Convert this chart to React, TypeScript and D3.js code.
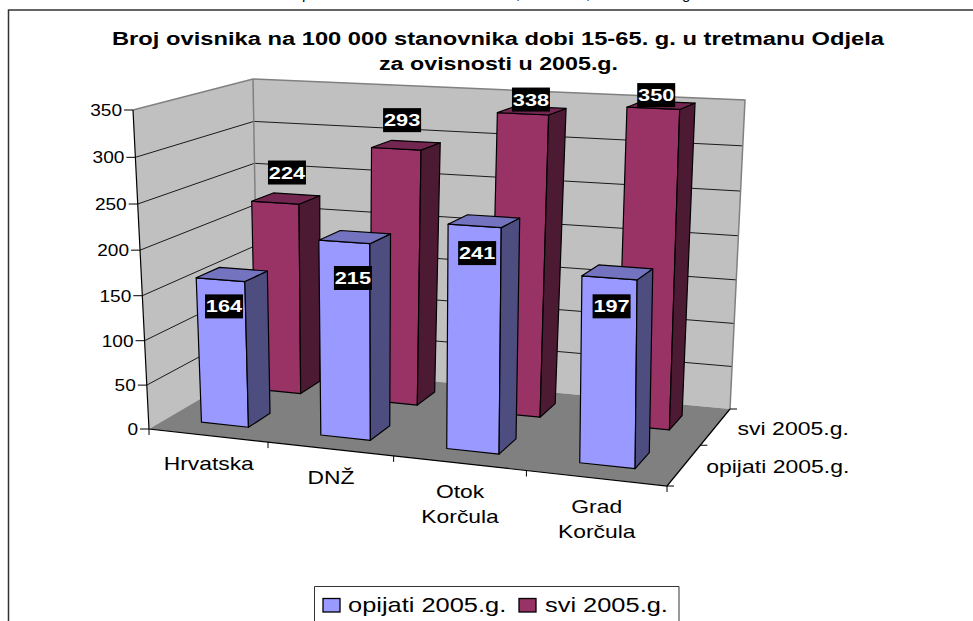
import React from "react";
import * as d3 from "d3";

const categories = ["Hrvatska", "DNŽ", "Otok\nKorčula", "Grad\nKorčula"];
const seriesNames = ["opijati 2005.g.", "svi 2005.g."];
const opijati = [164, 215, 241, 197];
const svi = [224, 293, 338, 350];
const valueTicks = [0, 50, 100, 150, 200, 250, 300, 350];
const titleLines = [
  "Broj ovisnika na 100 000 stanovnika dobi 15-65. g. u tretmanu Odjela",
  "za ovisnosti u 2005.g.",
];

type P = [number, number];
// plot box corners: floor then ceiling, order front-left, front-right, back-right, back-left
const floorQuad: P[] = [[149, 429], [667, 486], [730, 409], [258, 365]];
const ceilQuad: P[] = [[133, 110], [668, 134], [745, 100], [253, 79]];
const HEIGHT_W = 0.957;
const CEIL_U_WARP = 0.025;

function squareToQuad(q: P[]) {
  const [[x0, y0], [x1, y1], [x2, y2], [x3, y3]] = q;
  const dx1 = x1 - x2, dx2 = x3 - x2, dx3 = x0 - x1 + x2 - x3;
  const dy1 = y1 - y2, dy2 = y3 - y2, dy3 = y0 - y1 + y2 - y3;
  const den = dx1 * dy2 - dx2 * dy1;
  const g = (dx3 * dy2 - dx2 * dy3) / den;
  const h = (dx1 * dy3 - dx3 * dy1) / den;
  const a = x1 - x0 + g * x1, b = x3 - x0 + h * x3, c = x0;
  const d = y1 - y0 + g * y1, e = y3 - y0 + h * y3, f = y0;
  return (u: number, v: number): P => {
    const w = g * u + h * v + 1;
    return [(a * u + b * v + c) / w, (d * u + e * v + f) / w];
  };
}
const floorH = squareToQuad(floorQuad);
const ceilH = squareToQuad(ceilQuad);

function project(u: number, v: number, t: number): P {
  const tt = (t * HEIGHT_W) / (1 - t + t * HEIGHT_W);
  const a = floorH(u, v), b = ceilH(u + CEIL_U_WARP * u * (u - 1), v);
  return [a[0] + (b[0] - a[0]) * tt, a[1] + (b[1] - a[1]) * tt];
}

const yScale = d3.scaleLinear().domain([0, 350]).range([0, 1]);
const xBand = d3.scaleBand<string>().domain(categories).range([0, 1]).paddingInner(0.6).paddingOuter(0.3);
const xOuter = d3.scaleBand<string>().domain(categories).range([0, 1]);
const zBand = d3.scaleBand<string>().domain(seriesNames).range([0, 1]).paddingInner(0.6).paddingOuter(0.3);
const zOuter = d3.scaleBand<string>().domain(seriesNames).range([0, 1]);

const poly = (pts: P[]) => d3.line()(pts)! + "Z";

const palette = [
  { front: "#9999FF", side: "#4D4D80", top: "#7373BF" },
  { front: "#993366", side: "#4D1A33", top: "#732650" },
];
const labelShift: P[][] = [
  [[-8, -2], [-2, 7], [-7, -2], [-6, 0]],
  [[1, 1], [-4, 2], [-1, 16], [-5, 17]],
];

const FONT = "'Liberation Sans', Arial, sans-serif";

function SText(props: {
  x: number; y: number; size: number; sx: number; anchor?: string; bold?: boolean; fill?: string; children: string;
}) {
  const { x, y, size, sx, anchor = "middle", bold, fill = "#000", children } = props;
  return (
    <text
      transform={`translate(${x},${y}) scale(${sx},1)`}
      fontFamily={FONT}
      fontSize={size}
      fontWeight={bold ? 700 : 400}
      textAnchor={anchor}
      fill={fill}
    >
      {children}
    </text>
  );
}

function Bar({ cat, ser, value, si }: { cat: string; ser: string; value: number; si: number }) {
  const u0 = xBand(cat)!, u1 = u0 + xBand.bandwidth();
  const v0 = zBand(ser)!, v1 = v0 + zBand.bandwidth();
  const t = yScale(value);
  const c = palette[si];
  const s = { stroke: "#000", strokeWidth: 1.2, strokeLinejoin: "round" as const };
  return (
    <g>
      <path d={poly([project(u0, v0, 0), project(u1, v0, 0), project(u1, v0, t), project(u0, v0, t)])} fill={c.front} {...s} />
      <path d={poly([project(u1, v0, 0), project(u1, v1, 0), project(u1, v1, t), project(u1, v0, t)])} fill={c.side} {...s} />
      <path d={poly([project(u0, v0, t), project(u1, v0, t), project(u1, v1, t), project(u0, v1, t)])} fill={c.top} {...s} />
    </g>
  );
}

function DataLabel({ cat, ser, value, si, i }: { cat: string; ser: string; value: number; si: number; i: number }) {
  const u = xBand(cat)! + xBand.bandwidth() / 2;
  const v = zBand(ser)! + zBand.bandwidth() / 2;
  const [px, py] = project(u, v, yScale(value));
  const baseOffset = si === 0 ? 34 : -27;
  const x = px + labelShift[si][i][0];
  const y = py + baseOffset + labelShift[si][i][1];
  return (
    <g>
      <rect x={x - 19} y={y - 12} width={38} height={24} fill="#000" />
      <SText x={x} y={y + 6} size={16} sx={1.36} bold fill="#fff">{String(value)}</SText>
    </g>
  );
}

export default function App() {
  const wall = "#C0C0C0";
  const floor = "#808080";
  const edge = "#808080";
  const seriesData = [opijati, svi];
  return (
    <svg width={973} height={621} style={{ position: "absolute", left: 0, top: 0, background: "#fff" }}>
      {/* clipped line of the page text above the chart */}
      {[["p", 302], [",", 516], [",", 586], ["g", 682]].map(([s, x]) => (
        <text key={String(x)} x={x as number} y={-1} fontFamily={FONT} fontSize={15} fill="#000">{s as string}</text>
      ))}
      <path d="M8.5,621V10H973" fill="none" stroke="#333" strokeWidth={1.5} />

      {titleLines.map((line, i) => (
        <text
          key={line}
          x={i === 0 ? 112 : 379}
          y={45 + i * 25}
          textLength={i === 0 ? 772 : 239}
          lengthAdjust="spacingAndGlyphs"
          fontFamily={FONT}
          fontSize={17.5}
          fontWeight={700}
        >
          {line}
        </text>
      ))}

      {/* walls and floor */}
      <path d={poly([project(0, 0, 0), project(0, 1, 0), project(0, 1, 1), project(0, 0, 1)])} fill={wall} />
      <path d={poly([project(0, 1, 0), project(1, 1, 0), project(1, 1, 1), project(0, 1, 1)])} fill={wall} />
      <path d={poly([project(0, 0, 0), project(1, 0, 0), project(1, 1, 0), project(0, 1, 0)])} fill={floor} />
      {valueTicks.slice(1, -1).map((tv) => {
        const t = yScale(tv);
        return (
          <path key={tv} d={d3.line()([project(0, 0, t), project(0, 1, t), project(1, 1, t)])!} fill="none" stroke="#1a1a1a" strokeWidth={1} />
        );
      })}
      <path d={d3.line()([project(0, 0, 1), project(0, 1, 1), project(1, 1, 1), project(1, 1, 0)])!} fill="none" stroke={edge} strokeWidth={1.5} />
      <path d={d3.line()([project(0, 1, 1), project(0, 1, 0)])!} fill="none" stroke={edge} strokeWidth={1.5} />

      {/* axes */}
      <path d={d3.line()([project(0, 0, 1), project(0, 0, 0), project(1, 0, 0), project(1, 1, 0)])!} fill="none" stroke="#000" strokeWidth={1.2} />
      {valueTicks.map((tv) => {
        const [x, y] = project(0, 0, yScale(tv));
        return (
          <g key={tv}>
            <line x1={x - 9} x2={x} y1={y} y2={y} stroke="#000" strokeWidth={1} />
            <SText x={x - 11} y={y + 6} size={16.3} sx={1.17} anchor="end">{String(tv)}</SText>
          </g>
        );
      })}
      {[...xOuter.domain().map((c) => xOuter(c)!), 1].map((u) => {
        const [x, y] = project(u, 0, 0);
        return <line key={u} x1={x} x2={x} y1={y} y2={y + 6} stroke="#000" strokeWidth={1} />;
      })}
      {[...zOuter.domain().map((s) => zOuter(s)!), 1].map((v) => {
        const [x, y] = project(1, v, 0);
        return <line key={v} x1={x} x2={x + 7} y1={y} y2={y} stroke="#000" strokeWidth={1} />;
      })}
      {categories.map((c) => {
        const center = xOuter(c)! + xOuter.bandwidth() / 2;
        const [x, y] = project(center, 0, 0);
        const lines = c.split("\n");
        return (
          <g key={c}>
            {lines.map((l, j) => (
              <SText key={l} x={x + 1} y={y + 35 + j * 25} size={18} sx={1.27}>{l}</SText>
            ))}
          </g>
        );
      })}
      {seriesNames.map((s) => {
        const [x, y] = project(1, zOuter(s)! + zOuter.bandwidth() / 2, 0);
        return (
          <SText key={s} x={x + 22} y={y + 8} size={17.7} sx={1.3} anchor="start">{s}</SText>
        );
      })}

      {/* bars, rear row first */}
      {[1, 0].map((si) =>
        categories.map((c, i) => (
          <Bar key={si + c} cat={c} ser={seriesNames[si]} value={seriesData[si][i]} si={si} />
        ))
      )}
      {[1, 0].map((si) =>
        categories.map((c, i) => (
          <DataLabel key={si + c} cat={c} ser={seriesNames[si]} value={seriesData[si][i]} si={si} i={i} />
        ))
      )}

      {/* legend */}
      <path d="M314.5,621V586.5H679V621" fill="#fff" stroke="#333" strokeWidth={1} />
      {seriesNames.map((s, i) => {
        const sw = [323, 519][i];
        return (
          <g key={s}>
            <rect x={sw} y={598.5} width={17} height={13.5} fill={palette[i].front} stroke="#000" strokeWidth={1.3} />
            <SText x={[348, 545][i]} y={612} size={20.5} sx={1.24} anchor="start">{s}</SText>
          </g>
        );
      })}
    </svg>
  );
}
